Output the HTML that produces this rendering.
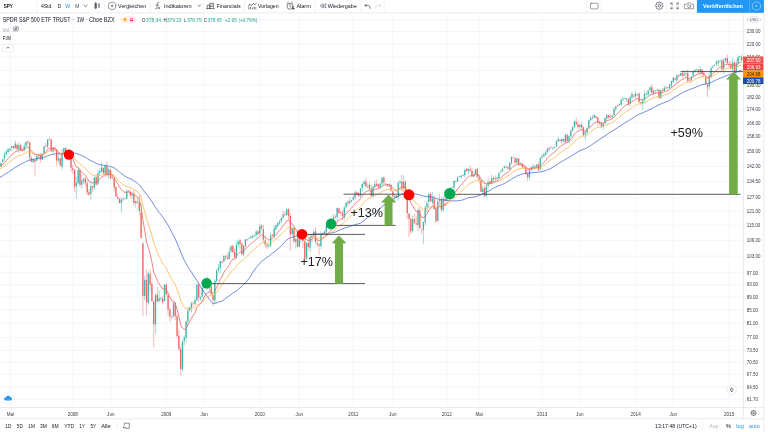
<!DOCTYPE html>
<html><head><meta charset="utf-8"><style>
html,body{margin:0;padding:0;background:#fff;width:768px;height:432px;overflow:hidden}
svg{display:block;font-family:'Liberation Sans', sans-serif;will-change:transform}
</style></head><body>
<svg width="768" height="432" viewBox="0 0 768 432">
<defs><clipPath id="cc"><rect x="0" y="13.5" width="743.2" height="393.7"/></clipPath></defs>
<rect width="768" height="432" fill="#fff"/>
<path d="M10.4 13.5V407M72.8 13.5V407M110.6 13.5V407M166.3 13.5V407M204.1 13.5V407M259.8 13.5V407M299.3 13.5V407M353.3 13.5V407M392.8 13.5V407M446.8 13.5V407M479.2 13.5V407M542.1 13.5V407M579.8 13.5V407M635.6 13.5V407M673.3 13.5V407M729.1 13.5V407M0 19.66H743M0 31.56H743M0 43.98H743M0 56.98H743M0 70.62H743M0 84.96H743M0 96.98H743M0 109.54H743M0 122.70H743M0 136.50H743M0 151.03H743M0 166.35H743M0 181.51H743M0 197.55H743M0 211.08H743M0 225.29H743M0 240.27H743M0 256.09H743M0 272.87H743M0 284.64H743M0 296.93H743M0 309.78H743M0 323.25H743M0 337.41H743M0 350.41H743M0 362.06H743M0 374.21H743M0 386.92H743M0 399.32H743" stroke="#f0f3fa" stroke-width="0.8" fill="none"/>
<g clip-path="url(#cc)">
<path d="M0.88 162.74V167.32M2.68 159.07V162.59M4.47 151.91V160.78M6.27 150.27V156.17M8.07 147.59V153.96M9.87 148.18V151.77M11.67 146.02V150.87M15.26 140.18V149.08M18.86 142.13V152.97M24.25 143.25V151.63M26.05 141.54V148.27M33.24 159.16V162.61M36.84 154.5V160.92M38.64 155.03V158.95M42.23 153.3V159.86M44.03 146.06V154.26M47.63 138.51V149.3M53.02 146.97V153.3M58.41 154.32V162.99M62.01 149.14V169.78M63.81 147.75V154.14M67.4 149.92V154.89M76.39 176.37V198.65M78.19 168.5V183.84M81.79 174.59V188.3M83.59 177.82V183.87M90.78 182.12V199.76M94.37 177.26V190.39M97.97 169.84V185.05M99.77 168.33V175.09M101.57 162.37V172.18M105.16 164.75V177.14M108.76 167.64V179.39M121.34 197.02V212.47M123.14 197.82V201.45M126.74 189.27V199.58M132.13 193.14V199.17M135.73 201.03V207.48M144.72 275.43V299.92M148.31 271.61V304.79M155.51 293.28V334.16M159.1 290.26V302.7M160.9 296.88V301.2M164.5 284.39V301.36M173.49 301.23V317.2M182.48 340.68V371.24M184.27 335.16V345.68M186.07 320.95V342.61M187.87 306.88V327.51M189.67 306.82V310.69M191.47 301.72V312.69M195.06 297.03V305.16M196.86 283.23V301.23M200.46 296.09V300.98M202.25 286.25V297.65M204.05 280.38V289.47M205.85 277.25V281.98M209.45 285.75V292.78M214.84 279.21V303.27M216.64 269.07V281.67M218.44 264.16V273.32M220.23 261.07V273.07M223.83 255.15V261.92M229.22 247.76V259.91M231.02 245.13V252.87M236.42 241.36V258.58M238.21 239.72V247.16M243.61 245.56V256.6M245.41 238.87V247.43M247.2 238.96V241.04M249 237.97V239.02M250.8 235.81V238.25M252.6 235.42V238.45M254.4 234.16V236.81M256.19 230.26V237.78M259.79 223.49V234.85M268.78 243.91V247.72M270.58 232.36V247.12M274.17 225.48V238.66M275.97 224.74V229.66M277.77 222.57V227.75M279.57 220.12V224.65M281.37 217.24V222.96M283.16 211.06V218.99M286.76 207.97V216.1M292.15 227.51V236M295.75 237.67V248.34M299.35 237.17V247.42M301.14 231.64V242.8M306.54 241.8V260.18M310.13 235.78V252.34M311.93 234.46V242.19M313.73 229.23V236.94M320.92 231.26V248.88M324.52 230.51V234.06M326.32 225.54V235.46M329.91 220.49V228.84M331.71 218.17V222.47M333.51 214.12V221.5M337.1 207.36V220.86M344.3 205.99V219.94M346.09 201.64V207.71M349.69 197.56V204.37M351.49 199.78V202.2M353.29 195.79V200.19M355.08 189.92V200.11M360.48 187.81V197.01M362.28 183.69V191.56M364.07 180.16V186.13M367.67 183.47V188.38M373.06 185.12V196.98M374.86 180.85V188.23M380.26 182.28V188.68M382.05 177.08V185.51M389.25 182.91V187.17M394.64 194.45V200.98M398.24 180.9V200.73M400.03 179.82V183.46M403.63 175.35V191.94M412.62 215.76V232.68M418.01 207.39V231.56M423.41 221.48V244.4M425.21 205.66V225.51M427 200.05V212.02M428.8 192.86V206.93M432.4 191.77V204.47M437.79 200.1V221.27M439.59 193.76V206.39M443.19 195.95V211.41M446.78 194.12V200.85M448.58 191.4V195.62M450.38 187.79V194.68M452.18 186.56V188.11M453.97 180.02V189.79M457.57 176.44V182.14M459.37 175.68V177.26M461.17 175.03V178.5M462.96 173.9V176.21M464.76 169.63V177.18M468.36 168.7V174.6M473.75 171.14V177.06M475.55 168.48V175.23M482.74 186.23V194.01M486.34 184.01V197.33M488.14 177.98V189.15M491.73 174.81V184.12M497.13 176.49V179.56M498.92 171.95V178.77M500.72 170.39V173.03M502.52 168.4V172.21M504.32 166.04V168.85M509.71 162.04V170.06M511.51 156.29V164.9M516.9 157.41V163.72M520.5 162.1V165.46M529.49 168.54V179.69M531.29 166.17V171.09M533.09 164.08V168.71M534.88 165.19V168.2M536.68 163.95V168.17M540.28 157.27V170.32M542.08 154.2V158.16M543.87 152.27V156.74M545.67 150.25V155.4M547.47 147.13V153.44M549.27 147.59V150.75M552.86 147.13V150.28M554.66 146.6V148.54M556.46 140.03V146.86M558.26 136.89V141.72M561.85 138.46V144.22M565.45 133.69V144.2M569.05 134.59V143.74M570.84 129.53V137.47M572.64 126.75V131.01M574.44 120.34V128.12M579.83 123.74V128.68M585.23 130.72V140.6M587.03 126.25V134.72M588.82 119.59V127.93M590.62 116.47V121.13M592.42 115.2V119.42M594.22 114.08V118.43M599.61 120.91V125.37M603.21 123.16V129.92M605.01 117.83V123.99M606.8 113.89V120.83M612.2 115.36V118.38M614 106.85V115.81M615.79 106.22V111.56M619.39 102.96V105.46M621.19 97.71V105.3M622.99 96.62V100.72M624.78 97.79V99.47M626.58 98.33V102M630.18 95.41V106.23M631.98 91.87V99.05M635.57 90.79V97.98M637.37 94.35V96.23M642.76 98.22V110.03M644.56 90.2V102.77M646.36 91.94V95.11M648.16 90.03V96.37M649.96 86.21V92.26M653.55 89.3V94.7M657.15 88.51V90.82M660.74 90.29V98.96M664.34 85.52V91.26M667.94 86.72V88.48M669.73 83.96V89.5M671.53 80.66V87.71M673.33 77.1V83.02M676.93 74.32V83.23M680.52 72.92V75.95M684.12 70.51V75.76M691.31 75.98V83.24M693.11 70.55V77.29M694.91 69.34V72.61M696.7 68.95V70.49M700.3 65.71V75.62M709.29 72.47V90.12M711.09 66.28V77.62M712.89 65.01V68.52M714.68 64.42V66.12M716.48 60.95V66.62M718.28 60.41V66.4M720.08 59.57V62.92M723.67 58.44V73.57M725.47 57.89V61.78M732.66 57.46V71.39M736.26 59.32V73.51M738.06 55.72V67.23M739.86 55.72V60.86" stroke="#26a69a" stroke-width="0.55" fill="none" opacity="0.75"/>
<path d="M-0.92 159.83V169.59M13.46 145.49V148.85M17.06 143.38V149.93M20.66 143.61V150.91M22.45 147.88V151.5M27.85 140.42V145.41M29.65 142.09V159.9M31.44 156.13V162.51M35.04 159.19V176.37M40.43 152.81V162.84M45.83 142.76V147.3M49.42 137.39V140.69M51.22 138.51V151.64M54.82 146.52V150.13M56.62 149.02V165.71M60.21 157.72V167.13M65.61 147.21V158.89M69.2 148.9V156.3M71 155.3V172.47M72.8 165.02V173.69M74.6 169V191.99M79.99 168.77V187.14M85.38 177.88V186.41M87.18 179.56V195.14M88.98 188.94V195.79M92.58 185.67V191.69M96.17 174.44V185.8M103.36 167.71V173.91M106.96 161.42V176.46M110.56 169.45V179.33M112.35 174.99V179.29M114.15 177.57V191.11M115.95 186.18V197.18M117.75 193.86V199.24M119.55 197.65V203.28M124.94 198.26V199.82M128.54 189.87V192.3M130.33 189.81V197.63M133.93 189.86V205.46M137.53 198.18V203.87M139.32 194.33V215.3M141.12 205.83V238.73M142.92 242.07V316.43M146.52 269.49V315.32M150.11 269.16V291.49M151.91 281.47V301.41M153.71 300.92V347.38M157.3 286.9V301.81M162.7 296.15V304.25M166.29 283.48V295.21M168.09 292.68V315.42M169.89 307.88V321.63M171.69 316.36V319.35M175.28 302V319.82M177.08 313.7V338.32M178.88 329.8V350.96M180.68 346.58V375.87M193.26 301.9V306.46M198.66 283.3V301.99M207.65 276.79V290.07M211.24 281.11V294.49M213.04 293.88V306.21M222.03 260.61V263.63M225.63 254.54V260.56M227.43 254.35V259.55M232.82 244.28V253.33M234.62 248.58V258.6M240.01 238.79V249.34M241.81 242.94V254.93M257.99 230.06V234.58M261.59 224.14V230.26M263.39 225.03V242.37M265.18 235.55V247.79M266.98 243.52V249.14M272.38 234.71V236.93M284.96 211.14V215.76M288.56 208.45V219.64M290.36 212.97V250.72M293.95 227.47V242.86M297.55 232.79V247.04M302.94 229.32V247.98M304.74 239.78V261.3M308.34 238.39V250.26M315.53 227.14V243.71M317.33 240.14V247.19M319.12 243.14V255.01M322.72 232.02V235.31M328.11 224.92V228.05M335.31 214.7V218.97M338.9 207.71V214.11M340.7 211.58V215.14M342.5 210.26V220.44M347.89 200.04V205.68M356.88 191.37V195.83M358.68 192.06V196.78M365.87 177.7V187.82M369.47 181.73V189.92M371.27 185.01V197.85M376.66 179.62V186.72M378.46 183.6V187.94M383.85 175.96V184.63M385.65 183.21V184.92M387.45 183.72V186.91M391.04 184.48V191.87M392.84 190.02V197.97M396.44 195.2V197.96M401.83 174.71V192.09M405.43 180.36V192.54M407.23 190.57V219.12M409.02 213.05V236.95M410.82 218.24V233.93M414.42 214.03V223.73M416.22 216.36V225.71M419.81 207.47V229.43M421.61 229.17V234.01M430.6 191.88V201.59M434.2 195.97V209.9M435.99 206.09V222.39M441.39 197.67V212.15M444.98 195.75V205.6M455.77 181.39V182.66M466.56 168.52V171.35M470.16 165.95V172.51M471.95 168.07V177.31M477.35 167.79V177.38M479.15 174.11V183.45M480.94 178.49V192.15M484.54 185.34V196.45M489.93 180.74V184.39M493.53 176.87V181.16M495.33 175.34V181.24M506.12 165.33V167.83M507.91 165.77V170.09M513.31 157.41V158.29M515.11 157.41V163.44M518.7 158.35V165.97M522.3 162.94V167.44M524.1 165.3V167.76M525.89 165.92V175.23M527.69 172.54V181.1M538.48 162.4V171.12M551.07 146.37V148.36M560.06 139.67V141.57M563.65 138.79V141.67M567.25 133.25V142.71M576.24 117.53V125.56M578.04 120.57V129.44M581.63 121.54V130.78M583.43 126.44V135.62M596.02 115.84V118.64M597.81 116.28V125.78M601.41 122.49V127.47M608.6 114.84V118.82M610.4 114.12V118.34M617.59 104.43V107.49M628.38 98.78V105.8M633.77 94.07V98.47M639.17 92.32V103.33M640.97 101.51V104.45M651.75 84.21V94.39M655.35 90.14V93.31M658.95 88.85V98.84M662.54 88.39V92.61M666.14 86.17V89.32M675.13 77.25V80.84M678.72 74.3V76.65M682.32 70.79V77.85M685.92 72.73V77.07M687.71 69.43V81.62M689.51 79.38V81.07M698.5 68.95V73.68M702.1 68.99V76.48M703.9 71.46V77.31M705.69 76.07V84.6M707.49 84.49V97.13M721.88 59.54V70.6M727.27 54.57V63.68M729.07 61.01V67.81M730.87 61.16V69.99M734.46 61.2V74.61M741.65 54.6V61.07" stroke="#ef5350" stroke-width="0.55" fill="none" opacity="0.75"/>
<path d="M0.23 162.83h1.3v3.75h-1.3zM2.03 159.35h1.3v2.62h-1.3zM3.82 154.4h1.3v4.06h-1.3zM5.62 151.59h1.3v3.03h-1.3zM7.42 149.36h1.3v2.75h-1.3zM9.22 148.43h1.3v1.56h-1.3zM11.02 146.04h1.3v1.54h-1.3zM14.61 143.49h1.3v4.83h-1.3zM18.21 145.13h1.3v4.03h-1.3zM23.6 145.68h1.3v4.31h-1.3zM25.4 141.68h1.3v4.1h-1.3zM32.59 159.35h1.3v2.81h-1.3zM36.19 155.91h1.3v4.65h-1.3zM37.99 155.48h1.3v0.7h-1.3zM41.58 153.65h1.3v6.14h-1.3zM43.38 146.22h1.3v6.85h-1.3zM46.98 139.71h1.3v6.96h-1.3zM52.37 147.69h1.3v3.77h-1.3zM57.76 158.58h1.3v2.02h-1.3zM61.36 153.46h1.3v13.19h-1.3zM63.16 148.06h1.3v5.94h-1.3zM66.75 152.33h1.3v1.96h-1.3zM75.74 182.76h1.3v3.16h-1.3zM77.54 170.31h1.3v13.01h-1.3zM81.14 180.48h1.3v4.34h-1.3zM82.94 179.24h1.3v1.72h-1.3zM90.13 186.33h1.3v7.48h-1.3zM93.72 177.39h1.3v9.78h-1.3zM97.32 173.32h1.3v10.55h-1.3zM99.12 170.91h1.3v2.08h-1.3zM100.92 167.73h1.3v4.01h-1.3zM104.51 165.56h1.3v8.3h-1.3zM108.11 169.51h1.3v5.44h-1.3zM120.69 199.76h1.3v3.02h-1.3zM122.49 198.65h1.3v0.82h-1.3zM126.09 191.02h1.3v7.46h-1.3zM131.48 193.62h1.3v1.86h-1.3zM135.08 201.09h1.3v1.92h-1.3zM144.07 279.87h1.3v16.22h-1.3zM147.66 273.45h1.3v29.33h-1.3zM154.86 295.05h1.3v29.52h-1.3zM158.45 298.19h1.3v2.91h-1.3zM160.25 298.19h1.3v0.86h-1.3zM163.85 284.64h1.3v16.33h-1.3zM172.84 303.28h1.3v13.33h-1.3zM181.83 341.43h1.3v28.08h-1.3zM183.62 337.41h1.3v3.35h-1.3zM185.42 321.19h1.3v16.93h-1.3zM187.22 310.44h1.3v10.9h-1.3zM189.02 307.16h1.3v3.26h-1.3zM190.82 303.28h1.3v4.73h-1.3zM194.41 300.08h1.3v3.66h-1.3zM196.21 284.94h1.3v15.4h-1.3zM199.81 297.24h1.3v1.74h-1.3zM201.6 287.96h1.3v8.89h-1.3zM203.4 280.76h1.3v7.25h-1.3zM205.2 279.87h1.3v1.24h-1.3zM208.8 286.16h1.3v0.7h-1.3zM214.19 280.76h1.3v19.64h-1.3zM215.99 270.57h1.3v10.66h-1.3zM217.79 267.73h1.3v2.51h-1.3zM219.58 261.3h1.3v6.79h-1.3zM223.18 256.09h1.3v5.38h-1.3zM228.57 252.05h1.3v6.7h-1.3zM230.37 246.23h1.3v5.24h-1.3zM235.77 244.66h1.3v12.67h-1.3zM237.56 241.55h1.3v3.26h-1.3zM242.96 245.71h1.3v8.56h-1.3zM244.76 239.5h1.3v6.63h-1.3zM246.55 239.06h1.3v0.7h-1.3zM248.35 237.97h1.3v0.9h-1.3zM250.15 236.7h1.3v1.52h-1.3zM251.95 235.69h1.3v1.83h-1.3zM253.75 235.11h1.3v0.7h-1.3zM255.54 231.43h1.3v3.62h-1.3zM259.14 226.27h1.3v7.32h-1.3zM268.13 245.44h1.3v0.73h-1.3zM269.93 235.44h1.3v10.18h-1.3zM273.52 228.47h1.3v8.36h-1.3zM275.32 225.29h1.3v3.86h-1.3zM277.12 222.87h1.3v2.92h-1.3zM278.92 221.43h1.3v2.1h-1.3zM280.72 218.09h1.3v2.92h-1.3zM282.51 214.33h1.3v3.51h-1.3zM286.11 209.23h1.3v5.83h-1.3zM291.5 227.98h1.3v6.06h-1.3zM295.1 239.24h1.3v2.46h-1.3zM298.7 239.5h1.3v7.18h-1.3zM300.49 231.93h1.3v7.59h-1.3zM305.89 243.1h1.3v15.6h-1.3zM309.48 236.7h1.3v11.05h-1.3zM311.28 235.44h1.3v2h-1.3zM313.08 231.68h1.3v3.9h-1.3zM320.27 234.18h1.3v11.93h-1.3zM323.87 231.43h1.3v1.68h-1.3zM325.67 225.78h1.3v6.35h-1.3zM329.26 221.67h1.3v5.03h-1.3zM331.06 219.04h1.3v2.86h-1.3zM332.86 217.15h1.3v1.93h-1.3zM336.45 208.09h1.3v9.03h-1.3zM343.65 207.4h1.3v10.34h-1.3zM345.44 203.11h1.3v4.22h-1.3zM349.04 200.65h1.3v2.35h-1.3zM350.84 200.2h1.3v1.4h-1.3zM352.64 197.33h1.3v2.47h-1.3zM354.43 192.53h1.3v4.98h-1.3zM359.83 188.46h1.3v7.21h-1.3zM361.63 183.81h1.3v4.16h-1.3zM363.42 181.72h1.3v2.18h-1.3zM367.02 185.96h1.3v0.7h-1.3zM372.41 186.97h1.3v9.21h-1.3zM374.21 184.23h1.3v2.96h-1.3zM379.61 183.81h1.3v3.73h-1.3zM381.4 177.59h1.3v6.01h-1.3zM388.6 184.44h1.3v1.61h-1.3zM393.99 196.01h1.3v0.87h-1.3zM397.59 182.76h1.3v14.53h-1.3zM399.38 181.72h1.3v1.19h-1.3zM402.98 181.72h1.3v6.17h-1.3zM411.97 219.04h1.3v11.75h-1.3zM417.36 209.92h1.3v15h-1.3zM422.76 221.91h1.3v8.08h-1.3zM424.56 207.4h1.3v15h-1.3zM426.35 203.33h1.3v4h-1.3zM428.15 194.05h1.3v8.01h-1.3zM431.75 198.21h1.3v4.2h-1.3zM437.14 201.54h1.3v19.33h-1.3zM438.94 199.54h1.3v1.49h-1.3zM442.54 198.87h1.3v11.09h-1.3zM446.13 195.79h1.3v4.72h-1.3zM447.93 192.97h1.3v1.97h-1.3zM449.73 187.82h1.3v5.34h-1.3zM451.53 187.39h1.3v0.7h-1.3zM453.32 181.1h1.3v6.29h-1.3zM456.92 177.59h1.3v4.21h-1.3zM458.72 176.24h1.3v0.7h-1.3zM460.52 175.75h1.3v1.25h-1.3zM462.31 174.97h1.3v0.7h-1.3zM464.11 169.71h1.3v5.54h-1.3zM467.71 168.72h1.3v2.62h-1.3zM473.1 174.54h1.3v1.87h-1.3zM474.9 169.51h1.3v4.88h-1.3zM482.09 188.67h1.3v3.4h-1.3zM485.69 186.55h1.3v9.18h-1.3zM487.49 182.35h1.3v3.71h-1.3zM491.08 178.21h1.3v5.59h-1.3zM496.48 177.39h1.3v1.62h-1.3zM498.27 173.32h1.3v4.57h-1.3zM500.07 171.51h1.3v0.85h-1.3zM501.87 168.72h1.3v2.25h-1.3zM503.67 166.54h1.3v1.36h-1.3zM509.06 162.83h1.3v6.71h-1.3zM510.86 157.25h1.3v5.5h-1.3zM516.25 158.39h1.3v4.18h-1.3zM519.85 163.46h1.3v0.7h-1.3zM528.84 169.51h1.3v7.44h-1.3zM530.64 167.33h1.3v2.7h-1.3zM532.44 166.54h1.3v1.35h-1.3zM534.23 166.28h1.3v0.7h-1.3zM536.03 164.38h1.3v2.12h-1.3zM539.63 157.82h1.3v11.47h-1.3zM541.43 156.48h1.3v1.61h-1.3zM543.22 154.21h1.3v2.29h-1.3zM545.02 152.15h1.3v2.52h-1.3zM546.82 148.8h1.3v3.18h-1.3zM548.62 147.69h1.3v1.51h-1.3zM552.21 147.51h1.3v0.84h-1.3zM554.01 147.14h1.3v0.72h-1.3zM555.81 141.14h1.3v5.34h-1.3zM557.61 138.81h1.3v2.54h-1.3zM561.2 138.81h1.3v2.53h-1.3zM564.8 134.74h1.3v7.34h-1.3zM568.4 136.15h1.3v4.91h-1.3zM570.19 130.55h1.3v5.65h-1.3zM571.99 127.11h1.3v3.83h-1.3zM573.79 121.19h1.3v6.16h-1.3zM579.18 124.73h1.3v2.2h-1.3zM584.58 132.29h1.3v2.27h-1.3zM586.38 127.97h1.3v4.44h-1.3zM588.17 120.19h1.3v7.62h-1.3zM589.97 117.86h1.3v2.45h-1.3zM591.77 117.86h1.3v0.87h-1.3zM593.57 114.9h1.3v2.83h-1.3zM598.96 121.69h1.3v1.54h-1.3zM602.56 123.54h1.3v2.77h-1.3zM604.36 117.86h1.3v5.41h-1.3zM606.15 114.9h1.3v3.56h-1.3zM611.55 115.55h1.3v1.62h-1.3zM613.35 108.9h1.3v6.45h-1.3zM615.14 106.51h1.3v2.51h-1.3zM618.74 104.29h1.3v0.95h-1.3zM620.54 100.07h1.3v4.61h-1.3zM622.34 99.14h1.3v1.09h-1.3zM624.13 98.31h1.3v0.7h-1.3zM625.93 98.36h1.3v0.7h-1.3zM629.53 97.6h1.3v5.93h-1.3zM631.33 93.77h1.3v3.64h-1.3zM634.92 93.77h1.3v2.46h-1.3zM636.72 94.2h1.3v0.7h-1.3zM642.11 100.53h1.3v2.83h-1.3zM643.91 93.93h1.3v5.9h-1.3zM645.71 93.96h1.3v0.7h-1.3zM647.51 90.45h1.3v3.87h-1.3zM649.31 87.47h1.3v2.85h-1.3zM652.9 90.6h1.3v2.84h-1.3zM656.5 90.21h1.3v0.7h-1.3zM660.09 90.3h1.3v7.68h-1.3zM663.69 87.77h1.3v3.27h-1.3zM667.29 87.62h1.3v0.7h-1.3zM669.08 84.52h1.3v3.77h-1.3zM670.88 81.01h1.3v3.89h-1.3zM672.68 77.84h1.3v3.6h-1.3zM676.28 75.55h1.3v4.66h-1.3zM679.87 73.15h1.3v2.64h-1.3zM683.47 73.85h1.3v1.88h-1.3zM690.66 76.7h1.3v3.51h-1.3zM692.46 71.74h1.3v4.19h-1.3zM694.26 69.64h1.3v2.01h-1.3zM696.05 69.28h1.3v0.7h-1.3zM699.65 69.23h1.3v2.88h-1.3zM708.64 75.7h1.3v10.57h-1.3zM710.44 68.25h1.3v8.42h-1.3zM712.24 66.18h1.3v1.2h-1.3zM714.03 64.71h1.3v0.7h-1.3zM715.83 61.41h1.3v2.58h-1.3zM717.63 60.74h1.3v1.66h-1.3zM719.43 59.64h1.3v0.7h-1.3zM723.02 60.33h1.3v8.26h-1.3zM724.82 57.92h1.3v2.3h-1.3zM732.01 62.22h1.3v6.64h-1.3zM735.61 62.9h1.3v8.93h-1.3zM737.41 57.25h1.3v6.07h-1.3zM739.21 56.05h1.3v0.76h-1.3z" fill="#26a69a" opacity="0.8"/>
<path d="M-1.57 163.05h1.3v3.3h-1.3zM12.81 146.07h1.3v2.17h-1.3zM16.41 144.65h1.3v4.71h-1.3zM20.01 144.94h1.3v5.35h-1.3zM21.8 149.75h1.3v0.7h-1.3zM27.2 141.58h1.3v1h-1.3zM29 142.55h1.3v15.08h-1.3zM30.79 158.08h1.3v3.59h-1.3zM34.39 159.63h1.3v1.84h-1.3zM39.78 155.15h1.3v4.39h-1.3zM45.18 145.55h1.3v0.7h-1.3zM48.77 139.14h1.3v0.7h-1.3zM50.57 139.78h1.3v11.25h-1.3zM54.17 147.75h1.3v1.42h-1.3zM55.97 149.15h1.3v11.35h-1.3zM59.56 158.17h1.3v6.99h-1.3zM64.96 147.91h1.3v6.87h-1.3zM68.55 152.01h1.3v3.71h-1.3zM70.35 155.9h1.3v11.83h-1.3zM72.15 168.15h1.3v1.96h-1.3zM73.95 170.02h1.3v16.74h-1.3zM79.34 169.79h1.3v14.86h-1.3zM84.73 178.32h1.3v4.65h-1.3zM86.53 183.16h1.3v9.37h-1.3zM88.33 192.2h1.3v2.51h-1.3zM91.93 186.2h1.3v1.62h-1.3zM95.52 177.21h1.3v7.44h-1.3zM102.71 167.72h1.3v5.6h-1.3zM106.31 166.32h1.3v8.82h-1.3zM109.91 169.92h1.3v8.08h-1.3zM111.7 177h1.3v0.7h-1.3zM113.5 178.16h1.3v9.45h-1.3zM115.3 186.99h1.3v9.47h-1.3zM117.1 196.95h1.3v1.7h-1.3zM118.9 198.88h1.3v4.22h-1.3zM124.29 198.14h1.3v0.7h-1.3zM127.89 190.77h1.3v0.7h-1.3zM129.68 191.69h1.3v3.67h-1.3zM133.28 193.65h1.3v9.23h-1.3zM136.88 201.71h1.3v0.95h-1.3zM138.67 202.42h1.3v8.66h-1.3zM140.47 212.14h1.3v25.58h-1.3zM142.27 243.62h1.3v52.05h-1.3zM145.87 280.05h1.3v21.94h-1.3zM149.46 274h1.3v10.64h-1.3zM151.26 283.91h1.3v17.45h-1.3zM153.06 301.23h1.3v23.06h-1.3zM156.65 294.63h1.3v7.05h-1.3zM162.05 298.95h1.3v3.36h-1.3zM165.64 284.44h1.3v9.99h-1.3zM167.44 295.17h1.3v14.28h-1.3zM169.24 309.31h1.3v7.13h-1.3zM171.04 316.44h1.3v0.7h-1.3zM174.63 302.81h1.3v12.95h-1.3zM176.43 315.89h1.3v20.07h-1.3zM178.23 335.84h1.3v13.05h-1.3zM180.03 348.91h1.3v19.97h-1.3zM192.61 302.75h1.3v0.85h-1.3zM198.01 284.71h1.3v13.16h-1.3zM207 279.09h1.3v8.57h-1.3zM210.59 286.51h1.3v7.91h-1.3zM212.39 295.09h1.3v5h-1.3zM221.38 261.45h1.3v1.23h-1.3zM224.98 256.04h1.3v0.87h-1.3zM226.78 257.57h1.3v1.53h-1.3zM232.17 246.08h1.3v5.97h-1.3zM233.97 251.86h1.3v5.6h-1.3zM239.36 240.37h1.3v3.51h-1.3zM241.16 243.41h1.3v11.06h-1.3zM257.34 231.57h1.3v2.61h-1.3zM260.94 225.81h1.3v2.9h-1.3zM262.74 229.35h1.3v10.41h-1.3zM264.53 240.58h1.3v3.82h-1.3zM266.33 244.86h1.3v1.37h-1.3zM271.73 234.71h1.3v1.23h-1.3zM284.31 214.33h1.3v0.7h-1.3zM287.91 208.93h1.3v7.28h-1.3zM289.71 216.02h1.3v18.41h-1.3zM293.3 227.85h1.3v13.7h-1.3zM296.9 238.55h1.3v7.94h-1.3zM302.29 230.63h1.3v10.41h-1.3zM304.09 241.27h1.3v17h-1.3zM307.69 242.92h1.3v4.09h-1.3zM314.88 231.22h1.3v10.85h-1.3zM316.68 242.89h1.3v1.26h-1.3zM318.47 244.19h1.3v1.52h-1.3zM322.07 233.46h1.3v0.7h-1.3zM327.46 225.16h1.3v1.11h-1.3zM334.66 216.49h1.3v0.7h-1.3zM338.25 208.56h1.3v4.37h-1.3zM340.05 211.95h1.3v0.98h-1.3zM341.85 213.27h1.3v2.93h-1.3zM347.24 202.11h1.3v1.45h-1.3zM356.23 192.28h1.3v2.2h-1.3zM358.03 193.6h1.3v2.41h-1.3zM365.22 181.39h1.3v4.74h-1.3zM368.82 184.8h1.3v4.51h-1.3zM370.62 188.71h1.3v7.31h-1.3zM376.01 183.78h1.3v1.92h-1.3zM377.81 184.2h1.3v3.41h-1.3zM383.2 177.75h1.3v4.39h-1.3zM385 183.42h1.3v0.7h-1.3zM386.8 184.09h1.3v1.19h-1.3zM390.39 184.68h1.3v6.12h-1.3zM392.19 191.62h1.3v4.61h-1.3zM395.79 195.77h1.3v2h-1.3zM401.18 181.77h1.3v6.26h-1.3zM404.78 181.67h1.3v10.87h-1.3zM406.58 192.46h1.3v20.7h-1.3zM408.37 213.54h1.3v5.5h-1.3zM410.17 218.7h1.3v12.49h-1.3zM413.77 219.26h1.3v3.37h-1.3zM415.57 223.19h1.3v1.37h-1.3zM419.16 210.46h1.3v17.52h-1.3zM420.96 229.14h1.3v0.7h-1.3zM429.95 193.99h1.3v7.33h-1.3zM433.55 198.34h1.3v10.67h-1.3zM435.34 209.21h1.3v12.22h-1.3zM440.74 199.03h1.3v10.66h-1.3zM444.33 198.66h1.3v2.21h-1.3zM455.12 181.25h1.3v0.7h-1.3zM465.91 168.63h1.3v2.48h-1.3zM469.51 169.24h1.3v1.47h-1.3zM471.3 171.01h1.3v5.15h-1.3zM476.7 169.05h1.3v8.13h-1.3zM478.5 177.61h1.3v1.83h-1.3zM480.29 180.3h1.3v11.37h-1.3zM483.89 187.95h1.3v8.5h-1.3zM489.28 181.26h1.3v2.76h-1.3zM492.88 177.67h1.3v1.77h-1.3zM494.68 178.05h1.3v0.7h-1.3zM505.47 166.69h1.3v0.7h-1.3zM507.26 167.17h1.3v1.35h-1.3zM512.66 157.3h1.3v0.7h-1.3zM514.46 158.13h1.3v4.5h-1.3zM518.05 158.55h1.3v6.22h-1.3zM521.65 163.7h1.3v3.44h-1.3zM523.45 166.45h1.3v1.27h-1.3zM525.24 167.56h1.3v6.37h-1.3zM527.04 174.02h1.3v3.57h-1.3zM537.83 164.78h1.3v5.54h-1.3zM550.42 146.79h1.3v0.7h-1.3zM559.41 139.82h1.3v0.96h-1.3zM563 138.98h1.3v2.52h-1.3zM566.6 134.94h1.3v6.02h-1.3zM575.59 121.9h1.3v2.66h-1.3zM577.39 124.44h1.3v2.5h-1.3zM580.98 124.79h1.3v2.67h-1.3zM582.78 127.14h1.3v8.13h-1.3zM595.37 116.38h1.3v1.48h-1.3zM597.16 117.57h1.3v4.96h-1.3zM600.76 122.67h1.3v3.93h-1.3zM607.95 115.01h1.3v2.52h-1.3zM609.75 116.77h1.3v0.7h-1.3zM616.94 105.54h1.3v0.7h-1.3zM627.73 99.1h1.3v4.57h-1.3zM633.12 95.66h1.3v0.71h-1.3zM638.52 93.77h1.3v8.01h-1.3zM640.32 101.91h1.3v0.96h-1.3zM651.1 87.29h1.3v5.58h-1.3zM654.7 90.42h1.3v0.7h-1.3zM658.3 89.64h1.3v8.11h-1.3zM661.89 89.98h1.3v0.7h-1.3zM665.49 87.52h1.3v0.85h-1.3zM674.48 78.66h1.3v1.2h-1.3zM678.07 75.14h1.3v1.41h-1.3zM681.67 73.06h1.3v2.36h-1.3zM685.27 73.18h1.3v0.7h-1.3zM687.06 73.02h1.3v8.29h-1.3zM688.86 79.93h1.3v0.7h-1.3zM697.85 69.67h1.3v2.49h-1.3zM701.45 69.6h1.3v3.54h-1.3zM703.25 73.5h1.3v2.06h-1.3zM705.04 76.76h1.3v7.46h-1.3zM706.84 84.68h1.3v2.5h-1.3zM721.23 60.5h1.3v8.86h-1.3zM726.62 57.99h1.3v5.18h-1.3zM728.42 64.19h1.3v0.7h-1.3zM730.22 64.39h1.3v4h-1.3zM733.81 62.39h1.3v8.93h-1.3zM741 56.72h1.3v3.61h-1.3z" fill="#ef5350" opacity="0.85"/>
<path d="M-2.72 178.86 L-0.92 177.88 L0.88 176.9 L2.68 175.84 L4.47 174.63 L6.27 173.52 L8.07 172.33 L9.87 171.11 L11.67 169.84 L13.46 168.7 L15.26 167.52 L17.06 166.45 L18.86 165.3 L20.66 164.38 L22.45 163.57 L24.25 162.61 L26.05 161.54 L27.85 160.56 L29.65 160.12 L31.44 159.69 L33.24 159.28 L35.04 158.97 L36.84 158.58 L38.64 158.28 L40.43 158.06 L42.23 157.71 L44.03 157.07 L45.83 156.49 L47.63 155.8 L49.42 155.1 L51.22 154.76 L53.02 154.34 L54.82 153.98 L56.62 153.81 L58.41 153.71 L60.21 153.8 L62.01 153.68 L63.81 153.12 L65.61 152.78 L67.4 152.29 L69.2 152.11 L71 152.15 L72.8 152.32 L74.6 152.96 L76.39 153.63 L78.19 154.09 L79.99 154.93 L81.79 155.71 L83.59 156.52 L85.38 157.36 L87.18 158.54 L88.98 159.63 L90.78 160.64 L92.58 161.55 L94.37 162.22 L96.17 163.19 L97.97 164 L99.77 164.73 L101.57 164.98 L103.36 165.27 L105.16 165.43 L106.96 165.77 L108.76 166.11 L110.56 166.67 L112.35 167.12 L114.15 167.96 L115.95 169.2 L117.75 170.5 L119.55 172.09 L121.34 173.61 L123.14 174.8 L124.94 176.09 L126.74 177.16 L128.54 177.94 L130.33 178.86 L132.13 179.57 L133.93 180.82 L135.73 182.18 L137.53 183.39 L139.32 184.88 L141.12 186.86 L142.92 189.62 L144.72 192.06 L146.52 194.48 L148.31 196.51 L150.11 199.09 L151.91 201.62 L153.71 204.67 L155.51 207.27 L157.3 209.92 L159.1 212.27 L160.9 214.59 L162.7 217.22 L164.5 219.51 L166.29 222.3 L168.09 225.19 L169.89 228.59 L171.69 232.11 L173.49 235.51 L175.28 239.01 L177.08 243.19 L178.88 247.35 L180.68 252.1 L182.48 256.16 L184.27 260.23 L186.07 263.69 L187.87 266.68 L189.67 269.57 L191.47 272.25 L193.26 275.07 L195.06 277.88 L196.86 280.36 L198.66 283.43 L200.46 286.52 L202.25 289.26 L204.05 291.91 L205.85 294.23 L207.65 296.84 L209.45 299.39 L211.24 301.87 L213.04 303.63 L214.84 303.24 L216.64 302.98 L218.44 302.07 L220.23 301.72 L222.03 301.12 L223.83 299.89 L225.63 298.15 L227.43 297.19 L229.22 295.85 L231.02 294.44 L232.82 293.21 L234.62 292.03 L236.42 290.93 L238.21 289.5 L240.01 287.78 L241.81 286.22 L243.61 284.41 L245.41 282.74 L247.2 280.79 L249 278.39 L250.8 275.72 L252.6 272.68 L254.4 270.17 L256.19 267.65 L257.99 265.55 L259.79 263.47 L261.59 261.54 L263.39 260.01 L265.18 258.6 L266.98 257.32 L268.78 256.36 L270.58 254.86 L272.38 253.39 L274.17 251.93 L275.97 250.55 L277.77 249.13 L279.57 247.51 L281.37 245.83 L283.16 243.89 L284.96 241.86 L286.76 240.09 L288.56 238.75 L290.36 237.95 L292.15 237.14 L293.95 236.64 L295.75 236.23 L297.55 235.99 L299.35 235.52 L301.14 235.03 L302.94 234.9 L304.74 235.05 L306.54 234.71 L308.34 234.76 L310.13 234.65 L311.93 234.44 L313.73 233.89 L315.53 233.8 L317.33 233.91 L319.12 234.07 L320.92 233.97 L322.72 233.91 L324.52 233.8 L326.32 233.55 L328.11 233.42 L329.91 233.1 L331.71 232.92 L333.51 232.62 L335.31 232.04 L337.1 231.11 L338.9 230.28 L340.7 229.46 L342.5 228.97 L344.3 228.24 L346.09 227.58 L347.89 227.01 L349.69 226.42 L351.49 225.86 L353.29 225.31 L355.08 224.72 L356.88 224.18 L358.68 223.82 L360.48 223.07 L362.28 221.74 L364.07 220.51 L365.87 219.1 L367.67 217.74 L369.47 216.31 L371.27 215.23 L373.06 214.08 L374.86 212.66 L376.66 210.9 L378.46 209.54 L380.26 207.99 L382.05 206.51 L383.85 205.19 L385.65 204.01 L387.45 202.64 L389.25 201.21 L391.04 199.92 L392.84 199.02 L394.64 198.13 L396.44 197.34 L398.24 196.29 L400.03 195.2 L401.83 194.39 L403.63 193.48 L405.43 192.89 L407.23 192.8 L409.02 193.06 L410.82 193.47 L412.62 193.61 L414.42 193.76 L416.22 194.15 L418.01 194.32 L419.81 194.88 L421.61 195.56 L423.41 196.07 L425.21 196.32 L427 196.59 L428.8 196.58 L430.6 196.71 L432.4 196.96 L434.2 197.59 L435.99 198.57 L437.79 198.96 L439.59 199.3 L441.39 199.81 L443.19 199.89 L444.98 200.24 L446.78 200.54 L448.58 200.73 L450.38 200.74 L452.18 200.84 L453.97 200.93 L455.77 200.92 L457.57 200.75 L459.37 200.51 L461.17 200.28 L462.96 199.86 L464.76 199.16 L466.56 198.5 L468.36 197.74 L470.16 197.41 L471.95 197.26 L473.75 196.91 L475.55 196.58 L477.35 196.18 L479.15 195.34 L480.94 194.68 L482.74 193.67 L484.54 193.13 L486.34 192.27 L488.14 191.26 L489.93 190.62 L491.73 189.43 L493.53 188.24 L495.33 187.21 L497.13 186.47 L498.92 185.73 L500.72 185.16 L502.52 184.34 L504.32 183.55 L506.12 182.52 L507.91 181.26 L509.71 180.29 L511.51 179.23 L513.31 177.96 L515.11 177.06 L516.9 176.01 L518.7 175.25 L520.5 174.52 L522.3 174.01 L524.1 173.52 L525.89 173.34 L527.69 173.24 L529.49 173.04 L531.29 172.81 L533.09 172.58 L534.88 172.36 L536.68 172.22 L538.48 172.2 L540.28 171.92 L542.08 171.56 L543.87 171 L545.67 170.42 L547.47 169.88 L549.27 169.13 L551.07 168.3 L552.86 167.2 L554.66 166.17 L556.46 164.8 L558.26 163.6 L560.06 162.55 L561.85 161.42 L563.65 160.5 L565.45 159.37 L567.25 158.43 L569.05 157.39 L570.84 156.3 L572.64 155.17 L574.44 153.94 L576.24 152.85 L578.04 151.83 L579.83 150.71 L581.63 149.81 L583.43 149.25 L585.23 148.61 L587.03 147.73 L588.82 146.75 L590.62 145.55 L592.42 144.39 L594.22 143.07 L596.02 141.82 L597.81 140.57 L599.61 139.22 L601.41 138.18 L603.21 137.11 L605.01 135.92 L606.8 134.65 L608.6 133.5 L610.4 132.23 L612.2 131.19 L614 130.01 L615.79 128.82 L617.59 127.67 L619.39 126.55 L621.19 125.35 L622.99 124.14 L624.78 122.91 L626.58 121.7 L628.38 120.77 L630.18 119.73 L631.98 118.55 L633.77 117.48 L635.57 116.29 L637.37 115.28 L639.17 114.32 L640.97 113.51 L642.76 112.76 L644.56 111.93 L646.36 111.24 L648.16 110.38 L649.96 109.38 L651.75 108.58 L653.55 107.66 L655.35 106.58 L657.15 105.55 L658.95 104.81 L660.74 104.07 L662.54 103.38 L664.34 102.63 L666.14 101.97 L667.94 101.22 L669.73 100.28 L671.53 99.27 L673.33 98.06 L675.13 96.98 L676.93 95.93 L678.72 94.97 L680.52 93.86 L682.32 92.82 L684.12 91.79 L685.92 90.9 L687.71 90.28 L689.51 89.64 L691.31 88.96 L693.11 88.24 L694.91 87.49 L696.7 86.76 L698.5 86.09 L700.3 85.23 L702.1 84.62 L703.9 84.17 L705.69 83.87 L707.49 83.71 L709.29 83.24 L711.09 82.41 L712.89 81.5 L714.68 80.61 L716.48 79.79 L718.28 78.95 L720.08 78.17 L721.88 77.72 L723.67 76.9 L725.47 76.08 L727.27 75.38 L729.07 74.75 L730.87 74.04 L732.66 73.34 L734.46 72.88 L736.26 72.26 L738.06 71.48 L739.86 70.69 L741.65 70.09" stroke="#4a6fd0" stroke-width="0.8" fill="none"/>
<path d="M-2.72 169.24 L-0.92 168.97 L0.88 168.38 L2.68 167.5 L4.47 166.23 L6.27 164.8 L8.07 163.29 L9.87 161.84 L11.67 160.3 L13.46 159.13 L15.26 157.6 L17.06 156.8 L18.86 155.67 L20.66 155.15 L22.45 154.69 L24.25 153.82 L26.05 152.64 L27.85 151.66 L29.65 152.23 L31.44 153.11 L33.24 153.7 L35.04 154.43 L36.84 154.57 L38.64 154.66 L40.43 155.12 L42.23 154.98 L44.03 154.14 L45.83 153.37 L47.63 152.04 L49.42 150.83 L51.22 150.85 L53.02 150.54 L54.82 150.41 L56.62 151.36 L58.41 152.04 L60.21 153.26 L62.01 153.28 L63.81 152.78 L65.61 152.97 L67.4 152.91 L69.2 153.18 L71 154.53 L72.8 155.98 L74.6 158.77 L76.39 160.97 L78.19 161.84 L79.99 163.94 L81.79 165.47 L83.59 166.75 L85.38 168.26 L87.18 170.48 L88.98 172.7 L90.78 173.97 L92.58 175.26 L94.37 175.46 L96.17 176.32 L97.97 176.04 L99.77 175.54 L101.57 174.79 L103.36 174.65 L105.16 173.77 L106.96 173.9 L108.76 173.48 L110.56 173.91 L112.35 174.24 L114.15 175.48 L115.95 177.41 L117.75 179.37 L119.55 181.54 L121.34 183.23 L123.14 184.66 L124.94 185.96 L126.74 186.44 L128.54 186.9 L130.33 187.69 L132.13 188.25 L133.93 189.61 L135.73 190.68 L137.53 191.8 L139.32 193.58 L141.12 197.5 L142.92 205.5 L144.72 211.78 L146.52 219.23 L148.31 223.96 L150.11 229.2 L151.91 235.33 L153.71 242.68 L155.51 247.26 L157.3 252.01 L159.1 256.1 L160.9 259.84 L162.7 263.62 L164.5 265.56 L166.29 268.18 L168.09 271.86 L169.89 275.81 L171.69 279.49 L173.49 281.67 L175.28 284.74 L177.08 289.24 L178.88 294.4 L180.68 300.7 L182.48 304.33 L184.27 307.32 L186.07 308.61 L187.87 308.78 L189.67 308.63 L191.47 308.11 L193.26 307.68 L195.06 306.95 L196.86 304.78 L198.66 304.11 L200.46 303.45 L202.25 301.94 L204.05 299.85 L205.85 297.88 L207.65 296.89 L209.45 295.88 L211.24 295.74 L213.04 296.15 L214.84 294.65 L216.64 292.27 L218.44 289.83 L220.23 286.99 L222.03 284.58 L223.83 281.74 L225.63 279.28 L227.43 277.29 L229.22 274.79 L231.02 271.94 L232.82 269.98 L234.62 268.76 L236.42 266.38 L238.21 263.91 L240.01 261.94 L241.81 261.22 L243.61 259.71 L245.41 257.72 L247.2 255.91 L249 254.15 L250.8 252.44 L252.6 250.8 L254.4 249.3 L256.19 247.55 L257.99 246.25 L259.79 244.28 L261.59 242.76 L263.39 242.47 L265.18 242.66 L266.98 242.99 L268.78 243.23 L270.58 242.48 L272.38 241.85 L274.17 240.54 L275.97 239.06 L277.77 237.47 L279.57 235.91 L281.37 234.16 L283.16 232.21 L284.96 230.5 L286.76 228.41 L288.56 227.22 L290.36 227.9 L292.15 227.91 L293.95 229.18 L295.75 230.12 L297.55 231.64 L299.35 232.38 L301.14 232.34 L302.94 233.15 L304.74 235.45 L306.54 236.17 L308.34 237.19 L310.13 237.14 L311.93 236.98 L313.73 236.47 L315.53 237 L317.33 237.67 L319.12 238.43 L320.92 238.02 L322.72 237.63 L324.52 237.03 L326.32 235.94 L328.11 235 L329.91 233.71 L331.71 232.28 L333.51 230.8 L335.31 229.45 L337.1 227.34 L338.9 225.94 L340.7 224.67 L342.5 223.85 L344.3 222.24 L346.09 220.36 L347.89 218.72 L349.69 216.95 L351.49 215.31 L353.29 213.55 L355.08 211.47 L356.88 209.81 L358.68 208.47 L360.48 206.5 L362.28 204.26 L364.07 202.03 L365.87 200.48 L367.67 199.08 L369.47 198.13 L371.27 197.93 L373.06 196.87 L374.86 195.64 L376.66 194.68 L378.46 193.99 L380.26 193.01 L382.05 191.5 L383.85 190.6 L385.65 189.96 L387.45 189.51 L389.25 189.03 L391.04 189.2 L392.84 189.86 L394.64 190.44 L396.44 191.13 L398.24 190.32 L400.03 189.49 L401.83 189.35 L403.63 188.62 L405.43 188.99 L407.23 191.2 L409.02 193.74 L410.82 197.09 L412.62 199.11 L414.42 201.27 L416.22 203.41 L418.01 204.02 L419.81 206.21 L421.61 208.37 L423.41 209.63 L425.21 209.42 L427 208.83 L428.8 207.39 L430.6 206.81 L432.4 205.98 L434.2 206.26 L435.99 207.67 L437.79 207.08 L439.59 206.36 L441.39 206.67 L443.19 205.92 L444.98 205.43 L446.78 204.5 L448.58 203.38 L450.38 201.86 L452.18 200.47 L453.97 198.57 L455.77 196.92 L457.57 195.02 L459.37 193.21 L461.17 191.5 L462.96 189.9 L464.76 187.91 L466.56 186.27 L468.36 184.55 L470.16 183.2 L471.95 182.52 L473.75 181.75 L475.55 180.56 L477.35 180.24 L479.15 180.16 L480.94 181.24 L482.74 181.94 L484.54 183.29 L486.34 183.6 L488.14 183.48 L489.93 183.53 L491.73 183.02 L493.53 182.68 L495.33 182.29 L497.13 181.82 L498.92 181 L500.72 180.08 L502.52 178.98 L504.32 177.77 L506.12 176.76 L507.91 175.96 L509.71 174.68 L511.51 172.98 L513.31 171.5 L515.11 170.64 L516.9 169.45 L518.7 169 L520.5 168.48 L522.3 168.35 L524.1 168.29 L525.89 168.83 L527.69 169.65 L529.49 169.64 L531.29 169.42 L533.09 169.14 L534.88 168.89 L536.68 168.46 L538.48 168.64 L540.28 167.59 L542.08 166.51 L543.87 165.32 L545.67 164.03 L547.47 162.55 L549.27 161.1 L551.07 159.74 L552.86 158.55 L554.66 157.44 L556.46 155.85 L558.26 154.18 L560.06 152.88 L561.85 151.51 L563.65 150.54 L565.45 149 L567.25 148.22 L569.05 147.05 L570.84 145.43 L572.64 143.64 L574.44 141.42 L576.24 139.77 L578.04 138.52 L579.83 137.18 L581.63 136.24 L583.43 136.14 L585.23 135.78 L587.03 135.02 L588.82 133.58 L590.62 132.04 L592.42 130.66 L594.22 129.12 L596.02 128.03 L597.81 127.5 L599.61 126.94 L601.41 126.91 L603.21 126.58 L605.01 125.74 L606.8 124.69 L608.6 124 L610.4 123.36 L612.2 122.61 L614 121.27 L615.79 119.83 L617.59 118.49 L619.39 117.11 L621.19 115.44 L622.99 113.84 L624.78 112.35 L626.58 111.02 L628.38 110.31 L630.18 109.07 L631.98 107.58 L633.77 106.49 L635.57 105.25 L637.37 104.22 L639.17 103.98 L640.97 103.88 L642.76 103.56 L644.56 102.63 L646.36 101.8 L648.16 100.7 L649.96 99.41 L651.75 98.78 L653.55 97.99 L655.35 97.32 L657.15 96.65 L658.95 96.75 L660.74 96.13 L662.54 95.59 L664.34 94.83 L666.14 94.21 L667.94 93.6 L669.73 92.73 L671.53 91.59 L673.33 90.25 L675.13 89.24 L676.93 87.91 L678.72 86.81 L680.52 85.48 L682.32 84.5 L684.12 83.47 L685.92 82.51 L687.71 82.4 L689.51 82.2 L691.31 81.67 L693.11 80.71 L694.91 79.63 L696.7 78.64 L698.5 78.02 L700.3 77.17 L702.1 76.78 L703.9 76.66 L705.69 77.38 L707.49 78.29 L709.29 78.05 L711.09 77.1 L712.89 76.04 L714.68 74.95 L716.48 73.63 L718.28 72.38 L720.08 71.14 L721.88 70.97 L723.67 69.94 L725.47 68.77 L727.27 68.24 L729.07 67.89 L730.87 67.94 L732.66 67.39 L734.46 67.76 L736.26 67.3 L738.06 66.32 L739.86 65.33 L741.65 64.85" stroke="#ffb74d" stroke-width="0.8" fill="none"/>
<path d="M-2.72 166.59 L-0.92 166.55 L0.88 165.87 L2.68 164.67 L4.47 162.78 L6.27 160.71 L8.07 158.61 L9.87 156.73 L11.67 154.76 L13.46 153.56 L15.26 151.7 L17.06 151.27 L18.86 150.15 L20.66 150.17 L22.45 150.19 L24.25 149.37 L26.05 147.95 L27.85 146.97 L29.65 148.88 L31.44 151.16 L33.24 152.63 L35.04 154.22 L36.84 154.52 L38.64 154.71 L40.43 155.58 L42.23 155.23 L44.03 153.57 L45.83 152.22 L47.63 149.9 L49.42 147.99 L51.22 148.54 L53.02 148.38 L54.82 148.53 L56.62 150.67 L58.41 152.09 L60.21 154.42 L62.01 154.25 L63.81 153.11 L65.61 153.41 L67.4 153.22 L69.2 153.67 L71 156.18 L72.8 158.66 L74.6 163.56 L76.39 166.96 L78.19 167.56 L79.99 170.59 L81.79 172.36 L83.59 173.6 L85.38 175.28 L87.18 178.34 L88.98 181.24 L90.78 182.16 L92.58 183.18 L94.37 182.12 L96.17 182.58 L97.97 180.87 L99.77 179.03 L101.57 176.94 L103.36 176.28 L105.16 174.3 L106.96 174.45 L108.76 173.55 L110.56 174.35 L112.35 174.9 L114.15 177.17 L115.95 180.58 L117.75 183.78 L119.55 187.19 L121.34 189.44 L123.14 191.09 L124.94 192.45 L126.74 192.19 L128.54 192.02 L130.33 192.62 L132.13 192.8 L133.93 194.61 L135.73 195.78 L137.53 197.01 L139.32 199.52 L141.12 206.09 L142.92 220.38 L144.72 230.3 L146.52 242.04 L148.31 247.49 L150.11 253.89 L151.91 261.94 L153.71 272.29 L155.51 276.29 L157.3 280.74 L159.1 283.83 L160.9 286.39 L162.7 289.22 L164.5 288.38 L166.29 289.47 L168.09 293 L169.89 297.11 L171.69 300.65 L173.49 301.12 L175.28 303.73 L177.08 309.32 L178.88 316.11 L180.68 324.99 L182.48 327.91 L184.27 329.61 L186.07 328.06 L187.87 324.77 L189.67 321.49 L191.47 318.09 L193.26 315.4 L195.06 312.55 L196.86 307.32 L198.66 305.58 L200.46 304.04 L202.25 301.05 L204.05 297.25 L205.85 294.01 L207.65 292.84 L209.45 291.67 L211.24 292.17 L213.04 293.59 L214.84 291.21 L216.64 287.35 L218.44 283.68 L220.23 279.47 L222.03 276.34 L223.83 272.55 L225.63 269.64 L227.43 267.69 L229.22 264.78 L231.02 261.32 L232.82 259.61 L234.62 259.22 L236.42 256.51 L238.21 253.73 L240.01 251.92 L241.81 252.38 L243.61 251.15 L245.41 249 L247.2 247.2 L249 245.5 L250.8 243.88 L252.6 242.37 L254.4 241.1 L256.19 239.32 L257.99 238.38 L259.79 236.13 L261.59 234.77 L263.39 235.67 L265.18 237.24 L266.98 238.85 L268.78 240.04 L270.58 239.2 L272.38 238.6 L274.17 236.73 L275.97 234.62 L277.77 232.44 L279.57 230.41 L281.37 228.13 L283.16 225.57 L284.96 223.58 L286.76 220.92 L288.56 220.05 L290.36 222.61 L292.15 223.58 L293.95 226.76 L295.75 228.99 L297.55 232.09 L299.35 233.43 L301.14 233.15 L302.94 234.57 L304.74 238.73 L306.54 239.52 L308.34 240.87 L310.13 240.11 L311.93 239.25 L313.73 237.86 L315.53 238.62 L317.33 239.62 L319.12 240.71 L320.92 239.51 L322.72 238.49 L324.52 237.19 L326.32 235.08 L328.11 233.46 L329.91 231.28 L331.71 229.01 L333.51 226.82 L335.31 224.99 L337.1 221.84 L338.9 220.2 L340.7 218.86 L342.5 218.38 L344.3 216.35 L346.09 213.9 L347.89 211.99 L349.69 209.89 L351.49 208.1 L353.29 206.11 L355.08 203.6 L356.88 201.92 L358.68 200.83 L360.48 198.54 L362.28 195.8 L364.07 193.19 L365.87 191.89 L367.67 190.83 L369.47 190.56 L371.27 191.54 L373.06 190.7 L374.86 189.52 L376.66 188.82 L378.46 188.6 L380.26 187.72 L382.05 185.85 L383.85 185.17 L385.65 184.96 L387.45 185.02 L389.25 184.91 L391.04 185.98 L392.84 187.81 L394.64 189.29 L396.44 190.81 L398.24 189.33 L400.03 187.93 L401.83 187.95 L403.63 186.81 L405.43 187.84 L407.23 192.28 L409.02 196.96 L410.82 202.88 L412.62 205.75 L414.42 208.74 L416.22 211.55 L418.01 211.26 L419.81 214.22 L421.61 216.97 L423.41 217.86 L425.21 215.93 L427 213.6 L428.8 209.94 L430.6 208.35 L432.4 206.48 L434.2 206.94 L435.99 209.52 L437.79 208.05 L439.59 206.48 L441.39 207.06 L443.19 205.56 L444.98 204.7 L446.78 203.06 L448.58 201.2 L450.38 198.72 L452.18 196.66 L453.97 193.77 L455.77 191.54 L457.57 188.95 L459.37 186.66 L461.17 184.64 L462.96 182.89 L464.76 180.45 L466.56 178.73 L468.36 176.88 L470.16 175.75 L471.95 175.82 L473.75 175.59 L475.55 174.47 L477.35 174.97 L479.15 175.77 L480.94 178.6 L482.74 180.4 L484.54 183.25 L486.34 183.85 L488.14 183.57 L489.93 183.65 L491.73 182.66 L493.53 182.07 L495.33 181.44 L497.13 180.7 L498.92 179.34 L500.72 177.9 L502.52 176.21 L504.32 174.43 L506.12 173.12 L507.91 172.28 L509.71 170.54 L511.51 168.07 L513.31 166.18 L515.11 165.53 L516.9 164.22 L518.7 164.32 L520.5 164.19 L522.3 164.72 L524.1 165.27 L525.89 166.82 L527.69 168.75 L529.49 168.89 L531.29 168.6 L533.09 168.23 L534.88 167.92 L536.68 167.28 L538.48 167.82 L540.28 165.98 L542.08 164.23 L543.87 162.38 L545.67 160.49 L547.47 158.33 L549.27 156.37 L551.07 154.67 L552.86 153.35 L554.66 152.21 L556.46 150.17 L558.26 148.07 L560.06 146.73 L561.85 145.27 L563.65 144.58 L565.45 142.77 L567.25 142.44 L569.05 141.29 L570.84 139.3 L572.64 137.05 L574.44 134.1 L576.24 132.34 L578.04 131.35 L579.83 130.13 L581.63 129.64 L583.43 130.66 L585.23 130.95 L587.03 130.41 L588.82 128.52 L590.62 126.55 L592.42 124.95 L594.22 123.1 L596.02 122.14 L597.81 122.21 L599.61 122.11 L601.41 122.92 L603.21 123.04 L605.01 122.09 L606.8 120.77 L608.6 120.17 L610.4 119.66 L612.2 118.91 L614 117.06 L615.79 115.11 L617.59 113.44 L619.39 111.76 L621.19 109.59 L622.99 107.66 L624.78 105.98 L626.58 104.64 L628.38 104.46 L630.18 103.2 L631.98 101.46 L633.77 100.53 L635.57 99.29 L637.37 98.42 L639.17 99.03 L640.97 99.72 L642.76 99.87 L644.56 98.78 L646.36 97.92 L648.16 96.55 L649.96 94.87 L651.75 94.51 L653.55 93.79 L655.35 93.29 L657.15 92.75 L658.95 93.65 L660.74 93.04 L662.54 92.57 L664.34 91.69 L666.14 91.08 L667.94 90.5 L669.73 89.4 L671.53 87.86 L673.33 86.01 L675.13 84.88 L676.93 83.16 L678.72 81.95 L680.52 80.33 L682.32 79.43 L684.12 78.41 L685.92 77.52 L687.71 78.2 L689.51 78.58 L691.31 78.24 L693.11 77.05 L694.91 75.69 L696.7 74.53 L698.5 74.09 L700.3 73.2 L702.1 73.19 L703.9 73.62 L705.69 75.52 L707.49 77.6 L709.29 77.25 L711.09 75.6 L712.89 73.86 L714.68 72.19 L716.48 70.2 L718.28 68.46 L720.08 66.84 L721.88 67.29 L723.67 66.02 L725.47 64.53 L727.27 64.28 L729.07 64.35 L730.87 65.08 L732.66 64.56 L734.46 65.78 L736.26 65.25 L738.06 63.78 L739.86 62.36 L741.65 61.99" stroke="#f06a6a" stroke-width="0.85" fill="none"/>
</g>
<g stroke="#4a4a4a" stroke-width="0.9" fill="none">
<path d="M206.6 283.6H365M302 234.4H365M331.1 225.4H395.6M343.5 194.2H408M449.8 194.3H740.5M680.6 71.6H743"/>
</g>
<g fill="#70ad47">
<path d="M335 243.2H331.7L338.9 235.6L346.5 243.2H343.1V283.8H335Z"/>
<path d="M384.6 202.5H381L388.6 194.4L396.3 202.5H392.5V225.4H384.6Z"/>
<path d="M729.1 79.6H725.9L734 71.85L740.9 79.6H737.7V194.2H729.1Z"/>
</g>
<g fill="#ff0000"><circle cx="68.9" cy="154.6" r="5.2"/><circle cx="302" cy="234.2" r="5.3"/><circle cx="408.9" cy="194.8" r="5.5"/></g>
<g fill="#00a84f"><circle cx="206.6" cy="283.2" r="5.2"/><circle cx="331.1" cy="223.9" r="5.3"/><circle cx="449.7" cy="193.7" r="5.6"/></g>
<g font-size="12.6" fill="#222">
<text x="300.5" y="265.6">+17%</text>
<text x="350.5" y="216.8">+13%</text>
<text x="670.5" y="136.8">+59%</text>
</g>
<!-- legend -->
<text x="2.67" y="21.75" font-size="6.30" fill="#131722" stroke="#131722" stroke-width="0.0" textLength="67.73" lengthAdjust="spacingAndGlyphs">SPDR S&amp;P 500 ETF TRUST</text><text x="72.60" y="21.75" font-size="6.30" fill="#787b86" stroke="#787b86" stroke-width="0.0" textLength="1.79" lengthAdjust="spacingAndGlyphs">·</text><text x="76.70" y="21.75" font-size="6.30" fill="#131722" stroke="#131722" stroke-width="0.0" textLength="7.30" lengthAdjust="spacingAndGlyphs">1W</text><text x="85.70" y="21.75" font-size="6.30" fill="#787b86" stroke="#787b86" stroke-width="0.0" textLength="1.79" lengthAdjust="spacingAndGlyphs">·</text><text x="89.00" y="21.75" font-size="6.30" fill="#131722" stroke="#131722" stroke-width="0.0" textLength="25.69" lengthAdjust="spacingAndGlyphs">Cboe BZX</text><text x="142.00" y="21.80" font-size="4.90" fill="#131722" stroke="#131722" stroke-width="0.0" textLength="3.49" lengthAdjust="spacingAndGlyphs">O</text><text x="145.90" y="21.80" font-size="4.90" fill="#26a69a" stroke="#26a69a" stroke-width="0.0" textLength="15.19" lengthAdjust="spacingAndGlyphs">378.34</text><text x="163.40" y="21.80" font-size="4.90" fill="#131722" stroke="#131722" stroke-width="0.0" textLength="3.21" lengthAdjust="spacingAndGlyphs">H</text><text x="167.00" y="21.80" font-size="4.90" fill="#26a69a" stroke="#26a69a" stroke-width="0.0" textLength="14.39" lengthAdjust="spacingAndGlyphs">379.23</text><text x="184.10" y="21.80" font-size="4.90" fill="#131722" stroke="#131722" stroke-width="0.0" textLength="2.00" lengthAdjust="spacingAndGlyphs">L</text><text x="186.90" y="21.80" font-size="4.90" fill="#26a69a" stroke="#26a69a" stroke-width="0.0" textLength="14.89" lengthAdjust="spacingAndGlyphs">376.75</text><text x="203.90" y="21.80" font-size="4.90" fill="#131722" stroke="#131722" stroke-width="0.0" textLength="2.91" lengthAdjust="spacingAndGlyphs">C</text><text x="207.70" y="21.80" font-size="4.90" fill="#26a69a" stroke="#26a69a" stroke-width="0.0" textLength="14.09" lengthAdjust="spacingAndGlyphs">378.65</text><text x="224.75" y="21.80" font-size="4.90" fill="#26a69a" stroke="#26a69a" stroke-width="0.0" textLength="12.05" lengthAdjust="spacingAndGlyphs">+2.95</text><text x="238.50" y="21.80" font-size="4.90" fill="#26a69a" stroke="#26a69a" stroke-width="0.0" textLength="18.75" lengthAdjust="spacingAndGlyphs">(+0.79%)</text><text x="2.40" y="31.50" font-size="5.00" fill="#a3a6af" stroke="#a3a6af" stroke-width="0.0" textLength="6.70" lengthAdjust="spacingAndGlyphs">Vol</text><text x="2.80" y="39.90" font-size="5.00" fill="#131722" stroke="#131722" stroke-width="0.0" textLength="8.20" lengthAdjust="spacingAndGlyphs">PJM</text>
<g fill="none" stroke="#6a6d78" stroke-width="0.6"><ellipse cx="15.9" cy="28.8" rx="2.7" ry="2.4"/><circle cx="15.9" cy="28.8" r="0.9" fill="#6a6d78"/><path d="M18.2 26.3L13.6 31.3"/></g>
<rect x="2.4" y="44.2" width="11.1" height="7.6" rx="1" fill="#fff" stroke="#e0e3eb" stroke-width="0.6"/>
<path d="M6.6 48.3L7.95 47L9.3 48.3" fill="none" stroke="#131722" stroke-width="0.6"/>
<path d="M124.2 16.3H128.5V22.9H124.2A3.3 3.3 0 0 1 124.2 16.3Z" fill="#fff1dc"/>
<path d="M128.5 16.3H133A3.3 3.3 0 0 1 133 22.9H128.5Z" fill="#fde2ec"/>
<circle cx="125" cy="19.6" r="1.25" fill="#ff9800"/><path d="M122.3 19.6h1M126.7 19.6h1M125 17.2v0.8M125 21.2v0.8M123.4 18l0.5 0.5M126.6 18l-0.5 0.5M123.4 21.2l0.5 -0.5M126.6 21.2l-0.5 -0.5" stroke="#ffb74d" stroke-width="0.4"/>
<rect x="130" y="18" width="3" height="1.1" fill="#f48fb1"/><rect x="130" y="19.8" width="3" height="1.2" fill="#d81b60"/>
<!-- price axis -->
<rect x="743.2" y="13.5" width="20.5" height="394" fill="#fff"/>
<path d="M743.5 13.5V418.5M763.8 13V432" stroke="#e0e3eb" stroke-width="0.7"/>
<text x="746.75" y="33.41" font-size="5.10" fill="#363a45" stroke="#363a45" stroke-width="0.0" textLength="13.73" lengthAdjust="spacingAndGlyphs">230.00</text><text x="746.75" y="45.83" font-size="5.10" fill="#363a45" stroke="#363a45" stroke-width="0.0" textLength="13.73" lengthAdjust="spacingAndGlyphs">220.00</text><text x="746.75" y="98.83" font-size="5.10" fill="#363a45" stroke="#363a45" stroke-width="0.0" textLength="13.73" lengthAdjust="spacingAndGlyphs">182.00</text><text x="746.75" y="111.39" font-size="5.10" fill="#363a45" stroke="#363a45" stroke-width="0.0" textLength="13.73" lengthAdjust="spacingAndGlyphs">174.00</text><text x="746.75" y="124.55" font-size="5.10" fill="#363a45" stroke="#363a45" stroke-width="0.0" textLength="13.73" lengthAdjust="spacingAndGlyphs">166.00</text><text x="746.75" y="138.35" font-size="5.10" fill="#363a45" stroke="#363a45" stroke-width="0.0" textLength="13.73" lengthAdjust="spacingAndGlyphs">158.00</text><text x="746.75" y="152.88" font-size="5.10" fill="#363a45" stroke="#363a45" stroke-width="0.0" textLength="13.73" lengthAdjust="spacingAndGlyphs">150.00</text><text x="746.75" y="168.20" font-size="5.10" fill="#363a45" stroke="#363a45" stroke-width="0.0" textLength="13.73" lengthAdjust="spacingAndGlyphs">142.00</text><text x="746.75" y="183.36" font-size="5.10" fill="#363a45" stroke="#363a45" stroke-width="0.0" textLength="13.73" lengthAdjust="spacingAndGlyphs">134.50</text><text x="746.75" y="199.40" font-size="5.10" fill="#363a45" stroke="#363a45" stroke-width="0.0" textLength="13.73" lengthAdjust="spacingAndGlyphs">127.00</text><text x="746.75" y="212.93" font-size="5.10" fill="#363a45" stroke="#363a45" stroke-width="0.0" textLength="13.73" lengthAdjust="spacingAndGlyphs">121.00</text><text x="746.75" y="227.14" font-size="5.10" fill="#363a45" stroke="#363a45" stroke-width="0.0" textLength="13.39" lengthAdjust="spacingAndGlyphs">115.00</text><text x="746.75" y="242.12" font-size="5.10" fill="#363a45" stroke="#363a45" stroke-width="0.0" textLength="13.73" lengthAdjust="spacingAndGlyphs">109.00</text><text x="746.75" y="257.94" font-size="5.10" fill="#363a45" stroke="#363a45" stroke-width="0.0" textLength="13.73" lengthAdjust="spacingAndGlyphs">103.00</text><text x="746.75" y="274.72" font-size="5.10" fill="#363a45" stroke="#363a45" stroke-width="0.0" textLength="11.23" lengthAdjust="spacingAndGlyphs">97.00</text><text x="746.75" y="286.49" font-size="5.10" fill="#363a45" stroke="#363a45" stroke-width="0.0" textLength="11.23" lengthAdjust="spacingAndGlyphs">93.00</text><text x="746.75" y="298.78" font-size="5.10" fill="#363a45" stroke="#363a45" stroke-width="0.0" textLength="11.23" lengthAdjust="spacingAndGlyphs">89.00</text><text x="746.75" y="311.63" font-size="5.10" fill="#363a45" stroke="#363a45" stroke-width="0.0" textLength="11.23" lengthAdjust="spacingAndGlyphs">85.00</text><text x="746.75" y="325.10" font-size="5.10" fill="#363a45" stroke="#363a45" stroke-width="0.0" textLength="11.23" lengthAdjust="spacingAndGlyphs">81.00</text><text x="746.75" y="339.26" font-size="5.10" fill="#363a45" stroke="#363a45" stroke-width="0.0" textLength="11.23" lengthAdjust="spacingAndGlyphs">77.00</text><text x="746.75" y="352.26" font-size="5.10" fill="#363a45" stroke="#363a45" stroke-width="0.0" textLength="11.23" lengthAdjust="spacingAndGlyphs">73.50</text><text x="746.75" y="363.91" font-size="5.10" fill="#363a45" stroke="#363a45" stroke-width="0.0" textLength="11.23" lengthAdjust="spacingAndGlyphs">70.50</text><text x="746.75" y="376.06" font-size="5.10" fill="#363a45" stroke="#363a45" stroke-width="0.0" textLength="11.23" lengthAdjust="spacingAndGlyphs">67.50</text><text x="746.75" y="388.77" font-size="5.10" fill="#363a45" stroke="#363a45" stroke-width="0.0" textLength="11.23" lengthAdjust="spacingAndGlyphs">64.50</text><text x="746.75" y="401.17" font-size="5.10" fill="#363a45" stroke="#363a45" stroke-width="0.0" textLength="11.23" lengthAdjust="spacingAndGlyphs">61.70</text><text x="746.75" y="86.81" font-size="5.10" fill="#363a45" stroke="#363a45" stroke-width="0.0" textLength="13.73" lengthAdjust="spacingAndGlyphs">190.00</text><text x="746.75" y="58.83" font-size="5.10" fill="#363a45" stroke="#363a45" stroke-width="0.0" textLength="13.73" lengthAdjust="spacingAndGlyphs">210.00</text>
<rect x="748.9" y="16.8" width="9.9" height="5.3" rx="1.8" fill="#fff" stroke="#c8cbd3" stroke-width="0.5"/>
<text x="749.74" y="21.10" font-size="4.10" fill="#50535e" stroke="#50535e" stroke-width="0.0" textLength="8.22" lengthAdjust="spacingAndGlyphs">USD</text>
<path d="M747.4 18.2v3M760.2 18.4l0.5 1.2l-0.5 1.2" stroke="#787b86" stroke-width="0.4" fill="none"/>
<g font-size="5.1">
<rect x="743" y="56.5" width="20.4" height="7.2" fill="#ef5350"/><text x="746.75" y="61.90" font-size="5.10" fill="#fff" stroke="#fff" stroke-width="0.0" textLength="13.73" lengthAdjust="spacingAndGlyphs">207.50</text>
<rect x="743" y="63.7" width="20.4" height="6.9" fill="#f23f3f"/><text x="746.75" y="69.00" font-size="5.10" fill="#fff" stroke="#fff" stroke-width="0.0" textLength="13.73" lengthAdjust="spacingAndGlyphs">206.93</text>
<rect x="743" y="70.6" width="20.4" height="6.7" fill="#ff9800"/><text x="746.75" y="75.80" font-size="5.10" fill="#131722" stroke="#131722" stroke-width="0.0" textLength="13.73" lengthAdjust="spacingAndGlyphs">204.68</text>
<rect x="743" y="77.3" width="20.4" height="6.8" fill="#1f4aae"/><text x="746.75" y="82.60" font-size="5.10" fill="#fff" stroke="#fff" stroke-width="0.0" textLength="13.73" lengthAdjust="spacingAndGlyphs">200.78</text>
</g>
<!-- time axis -->
<path d="M0 407.5H764M0 418.8H764" stroke="#e0e3eb" stroke-width="0.7"/>
<text x="6.70" y="415.80" font-size="5.10" fill="#363a45" stroke="#363a45" stroke-width="0.0" textLength="7.40" lengthAdjust="spacingAndGlyphs">Mai</text><text x="67.69" y="415.80" font-size="5.10" fill="#363a45" stroke="#363a45" stroke-width="0.0" textLength="10.21" lengthAdjust="spacingAndGlyphs">2008</text><text x="107.10" y="415.80" font-size="5.10" fill="#363a45" stroke="#363a45" stroke-width="0.0" textLength="7.40" lengthAdjust="spacingAndGlyphs">Jun</text><text x="161.19" y="415.80" font-size="5.10" fill="#363a45" stroke="#363a45" stroke-width="0.0" textLength="10.21" lengthAdjust="spacingAndGlyphs">2009</text><text x="200.40" y="415.80" font-size="5.10" fill="#363a45" stroke="#363a45" stroke-width="0.0" textLength="7.40" lengthAdjust="spacingAndGlyphs">Jun</text><text x="254.69" y="415.80" font-size="5.10" fill="#363a45" stroke="#363a45" stroke-width="0.0" textLength="10.21" lengthAdjust="spacingAndGlyphs">2010</text><text x="295.60" y="415.80" font-size="5.10" fill="#363a45" stroke="#363a45" stroke-width="0.0" textLength="7.40" lengthAdjust="spacingAndGlyphs">Jun</text><text x="348.36" y="415.80" font-size="5.10" fill="#363a45" stroke="#363a45" stroke-width="0.0" textLength="9.87" lengthAdjust="spacingAndGlyphs">2011</text><text x="389.10" y="415.80" font-size="5.10" fill="#363a45" stroke="#363a45" stroke-width="0.0" textLength="7.40" lengthAdjust="spacingAndGlyphs">Jun</text><text x="441.69" y="415.80" font-size="5.10" fill="#363a45" stroke="#363a45" stroke-width="0.0" textLength="10.21" lengthAdjust="spacingAndGlyphs">2012</text><text x="475.50" y="415.80" font-size="5.10" fill="#363a45" stroke="#363a45" stroke-width="0.0" textLength="7.40" lengthAdjust="spacingAndGlyphs">Mai</text><text x="536.99" y="415.80" font-size="5.10" fill="#363a45" stroke="#363a45" stroke-width="0.0" textLength="10.21" lengthAdjust="spacingAndGlyphs">2013</text><text x="576.10" y="415.80" font-size="5.10" fill="#363a45" stroke="#363a45" stroke-width="0.0" textLength="7.40" lengthAdjust="spacingAndGlyphs">Jun</text><text x="630.49" y="415.80" font-size="5.10" fill="#363a45" stroke="#363a45" stroke-width="0.0" textLength="10.21" lengthAdjust="spacingAndGlyphs">2014</text><text x="669.60" y="415.80" font-size="5.10" fill="#363a45" stroke="#363a45" stroke-width="0.0" textLength="7.40" lengthAdjust="spacingAndGlyphs">Jun</text><text x="723.99" y="415.80" font-size="5.10" fill="#363a45" stroke="#363a45" stroke-width="0.0" textLength="10.21" lengthAdjust="spacingAndGlyphs">2015</text>
<path d="M753.50 410.30 L754.03 410.35 L754.28 411.11 L754.64 411.30 L755.41 411.09 L755.74 411.50 L755.39 412.22 L755.51 412.60 L756.20 413.00 L756.15 413.53 L755.39 413.78 L755.20 414.14 L755.41 414.91 L755.00 415.24 L754.28 414.89 L753.90 415.01 L753.50 415.70 L752.97 415.65 L752.72 414.89 L752.36 414.70 L751.59 414.91 L751.26 414.50 L751.61 413.78 L751.49 413.40 L750.80 413.00 L750.85 412.47 L751.61 412.22 L751.80 411.86 L751.59 411.09 L752.00 410.76 L752.72 411.11 L753.10 410.99Z" fill="none" stroke="#131722" stroke-width="0.55" stroke-linejoin="round"/><circle cx="753.5" cy="413" r="0.8" fill="none" stroke="#131722" stroke-width="0.5"/>
<!-- bottom toolbar -->
<text x="5.30" y="428.10" font-size="5.20" fill="#131722" stroke="#131722" stroke-width="0.0" textLength="5.99" lengthAdjust="spacingAndGlyphs">1D</text><text x="16.80" y="428.10" font-size="5.20" fill="#131722" stroke="#131722" stroke-width="0.0" textLength="6.19" lengthAdjust="spacingAndGlyphs">5D</text><text x="28.30" y="428.10" font-size="5.20" fill="#131722" stroke="#131722" stroke-width="0.0" textLength="6.50" lengthAdjust="spacingAndGlyphs">1M</text><text x="40.00" y="428.10" font-size="5.20" fill="#131722" stroke="#131722" stroke-width="0.0" textLength="6.90" lengthAdjust="spacingAndGlyphs">3M</text><text x="51.70" y="428.10" font-size="5.20" fill="#131722" stroke="#131722" stroke-width="0.0" textLength="6.90" lengthAdjust="spacingAndGlyphs">6M</text><text x="64.20" y="428.10" font-size="5.20" fill="#131722" stroke="#131722" stroke-width="0.0" textLength="9.80" lengthAdjust="spacingAndGlyphs">YTD</text><text x="79.30" y="428.10" font-size="5.20" fill="#131722" stroke="#131722" stroke-width="0.0" textLength="5.59" lengthAdjust="spacingAndGlyphs">1Y</text><text x="90.40" y="428.10" font-size="5.20" fill="#131722" stroke="#131722" stroke-width="0.0" textLength="5.79" lengthAdjust="spacingAndGlyphs">5Y</text><text x="101.30" y="428.10" font-size="5.20" fill="#131722" stroke="#131722" stroke-width="0.0" textLength="9.39" lengthAdjust="spacingAndGlyphs">Alle</text><text x="655.00" y="428.30" font-size="5.20" fill="#131722" stroke="#131722" stroke-width="0.0" textLength="41.71" lengthAdjust="spacingAndGlyphs">13:17:48 (UTC+1)</text><text x="709.30" y="428.10" font-size="5.20" fill="#b2b5be" stroke="#b2b5be" stroke-width="0.0" textLength="10.61" lengthAdjust="spacingAndGlyphs">Anp.</text><text x="725.70" y="428.10" font-size="5.20" fill="#131722" stroke="#131722" stroke-width="0.0" textLength="5.29" lengthAdjust="spacingAndGlyphs">%</text><text x="736.30" y="428.10" font-size="5.20" fill="#2196f3" stroke="#2196f3" stroke-width="0.0" textLength="7.50" lengthAdjust="spacingAndGlyphs">log</text><text x="749.10" y="428.10" font-size="5.20" fill="#2196f3" stroke="#2196f3" stroke-width="0.0" textLength="10.61" lengthAdjust="spacingAndGlyphs">auto</text>
<path d="M117.25 421.8V429.7M702.4 421.5V430" stroke="#e0e3eb" stroke-width="0.6"/>
<g fill="none" stroke="#50535e" stroke-width="0.65"><path d="M124.3 423.2h5v5.2h-3.5M124.3 423.2v2.2M123.2 427.5h3M124.4 426.4l-1.2 1.1l1.2 1.1"/></g>
<!-- circle buttons -->
<circle cx="731.7" cy="389.8" r="4.7" fill="#fff" stroke="#e3e6ec" stroke-width="0.8"/>
<path d="M731.7 387.8l1.4 2l-1.4 2l-1.4 -2z" fill="none" stroke="#131722" stroke-width="0.6"/>
<circle cx="8.07" cy="398.6" r="5.9" fill="#fff" stroke="#eceef2" stroke-width="0.7"/>
<path d="M5.5 400.6a1.6 1.6 0 0 1 0.3 -3.2a2.4 2.4 0 0 1 4.5 -0.3a1.8 1.8 0 0 1 0.4 3.5z" fill="#2196f3"/>
<path d="M6.6 398.2l0.9 0.8M8.6 399.4h1.2" stroke="#cfe6fc" stroke-width="0.5"/>
<!-- top toolbar -->
<rect x="0" y="0" width="768" height="12.6" fill="#fff"/>
<path d="M0 12.9H764" stroke="#e0e3eb" stroke-width="0.7"/>
<path d="M37.3 0.8V12.2M104.4 0.8V12.2M150.3 0.8V12.2M203.2 0.8V12.2M244.7 0.8V12.2M314.7 0.8V12.2M360.8 0.8V12.2M384.2 0.8V12.2M586.6 0.8V12.2M601.0 0.8V12.2M666.2 0.8V12.2" stroke="#eceef2" stroke-width="0.7"/>
<text x="3.75" y="8.40" font-size="5.40" fill="#131722" stroke="#131722" stroke-width="0.0" textLength="9.16" lengthAdjust="spacingAndGlyphs" font-weight="bold">SPY</text><text x="40.90" y="8.30" font-size="5.30" fill="#131722" stroke="#131722" stroke-width="0.0" textLength="11.90" lengthAdjust="spacingAndGlyphs">4Std.</text><text x="57.70" y="8.30" font-size="5.30" fill="#131722" stroke="#131722" stroke-width="0.0" textLength="3.51" lengthAdjust="spacingAndGlyphs">D</text><text x="65.20" y="8.30" font-size="5.30" fill="#2196f3" stroke="#2196f3" stroke-width="0.0" textLength="4.89" lengthAdjust="spacingAndGlyphs">W</text><text x="75.00" y="8.30" font-size="5.30" fill="#50535e" stroke="#50535e" stroke-width="0.0" textLength="4.39" lengthAdjust="spacingAndGlyphs">M</text><text x="118.10" y="8.20" font-size="5.30" fill="#131722" stroke="#131722" stroke-width="0.0" textLength="28.11" lengthAdjust="spacingAndGlyphs">Vergleichen</text><text x="163.90" y="8.20" font-size="5.30" fill="#131722" stroke="#131722" stroke-width="0.0" textLength="27.69" lengthAdjust="spacingAndGlyphs">Indikatoren</text><text x="216.60" y="8.20" font-size="5.30" fill="#131722" stroke="#131722" stroke-width="0.0" textLength="24.01" lengthAdjust="spacingAndGlyphs">Financials</text><text x="258.00" y="8.20" font-size="5.30" fill="#131722" stroke="#131722" stroke-width="0.0" textLength="20.59" lengthAdjust="spacingAndGlyphs">Vorlagen</text><text x="296.40" y="8.20" font-size="5.30" fill="#131722" stroke="#131722" stroke-width="0.0" textLength="14.41" lengthAdjust="spacingAndGlyphs">Alarm</text><text x="327.70" y="8.20" font-size="5.30" fill="#131722" stroke="#131722" stroke-width="0.0" textLength="29.21" lengthAdjust="spacingAndGlyphs">Wiedergabe</text>
<g fill="none" stroke="#131722" stroke-width="0.55" stroke-linecap="round" stroke-linejoin="round">
<path d="M84 5.2l1.6 1.5l1.6 -1.5"/>
<path d="M198 5.2l1.2 1.2l1.2 -1.2"/>
<circle cx="112.05" cy="5.85" r="3.75" stroke="#6a6d78" stroke-width="0.7"/>
<circle cx="112.05" cy="5.85" r="1.25" fill="#8a8d97" stroke="none"/>
<path d="M159.1 2.5c-0.8 -0.5 -1.7 -0.1 -1.8 1l-0.4 4.6c-0.1 0.8 -0.8 1 -1.6 0.6M155.9 5.1h2.5M158.2 6.9l1.6 1.9M159.8 6.9l-1.6 1.9" stroke="#50535e" stroke-width="0.65"/>
<path d="M207.2 8.6V5.2h2.6V8.6M209.8 8.6V3.3h3.6V8.6M206.6 8.6h7.4M211 5h1.2M211 6.5h1.2"/>
<path d="M248.3 6.5l1.5 -2.6l1.6 1.8l1.9 -2.4l1.6 1.6l1.2 -1.4M248.8 9v-1.4M250.5 9v-1.9M252.3 9v-1.2M254.1 9v-2M255.8 9v-1.5"/>
<circle cx="290" cy="6.3" r="3" /><path d="M290 4.7v1.8l1.1 0.9M287.1 3.2l1.2 -1M292.9 3.2l-1.2 -1M292.4 8.6h2M293.4 7.6v2"/>
<path d="M322.7 4L320.1 5.9L322.7 7.8ZM325.5 4L322.9 5.9L325.5 7.8Z" stroke="#50535e" stroke-width="0.6"/>
<path d="M365 5.4h3c1.2 0 1.9 0.8 1.9 1.9v1M366.3 4.1l-1.3 1.3l1.3 1.3"/>
<path d="M380.8 5.4h-3c-1.2 0 -1.9 0.8 -1.9 1.9v1M379.5 4.1l1.3 1.3l-1.3 1.3" stroke="#c4c6cc"/>
<rect x="590.4" y="3.3" width="7.6" height="5.6" rx="0.9" stroke="#50535e"/>
<path d="M659.30 1.85 L660.06 1.92 L660.45 2.98 L660.97 3.26 L662.06 2.99 L662.54 3.58 L662.07 4.60 L662.24 5.16 L663.20 5.75 L663.13 6.51 L662.07 6.90 L661.79 7.42 L662.06 8.51 L661.47 8.99 L660.45 8.52 L659.89 8.69 L659.30 9.65 L658.54 9.58 L658.15 8.52 L657.63 8.24 L656.54 8.51 L656.06 7.92 L656.53 6.90 L656.36 6.34 L655.40 5.75 L655.47 4.99 L656.53 4.60 L656.81 4.08 L656.54 2.99 L657.13 2.51 L658.15 2.98 L658.71 2.81Z" stroke="#50535e" stroke-width="0.7"/><circle cx="659.3" cy="5.75" r="1.3" stroke="#50535e" stroke-width="0.7"/>
<path d="M671 3h1.8M671 3v1.8M671 3l1.8 1.8M678.2 3h-1.8M678.2 3v1.8M678.2 3l-1.8 1.8M671 8.7h1.8M671 8.7v-1.8M671 8.7l1.8 -1.8M678.2 8.7h-1.8M678.2 8.7v-1.8M678.2 8.7l-1.8 -1.8" stroke="#50535e"/>
<path d="M684.7 4.3h2.3l0.8 -1.4h2.8l0.8 1.4h2.1v4.4h-8.8z" stroke="#50535e"/><circle cx="689.1" cy="6.3" r="1.5" stroke="#50535e"/>
</g>
<rect x="94.5" y="2.9" width="2.3" height="5.6" rx="0.6" fill="#5d606b"/><path d="M95.65 1.9v7.3" stroke="#5d606b" stroke-width="0.6"/>
<rect x="97.9" y="3.7" width="2.1" height="4.4" rx="0.4" fill="#a7aab3"/><path d="M97.9 4.1h2.1" stroke="#6a6d78" stroke-width="0.6"/>
<rect x="696.9" y="0" width="67" height="12.8" fill="#2196f3"/>
<path d="M749.5 0V12.8" stroke="#6cbaf8" stroke-width="0.6"/>
<text x="703.00" y="8.20" font-size="5.60" fill="#fff" stroke="#fff" stroke-width="0.0" textLength="39.99" lengthAdjust="spacingAndGlyphs" font-weight="bold">Veröffentlichen</text>
<circle cx="756.5" cy="6" r="4.1" fill="none" stroke="#a6d4fa" stroke-width="0.7"/>
<path d="M755.9 5L757.4 6L755.9 7Z" fill="#fff"/>
</svg>
</body></html>
